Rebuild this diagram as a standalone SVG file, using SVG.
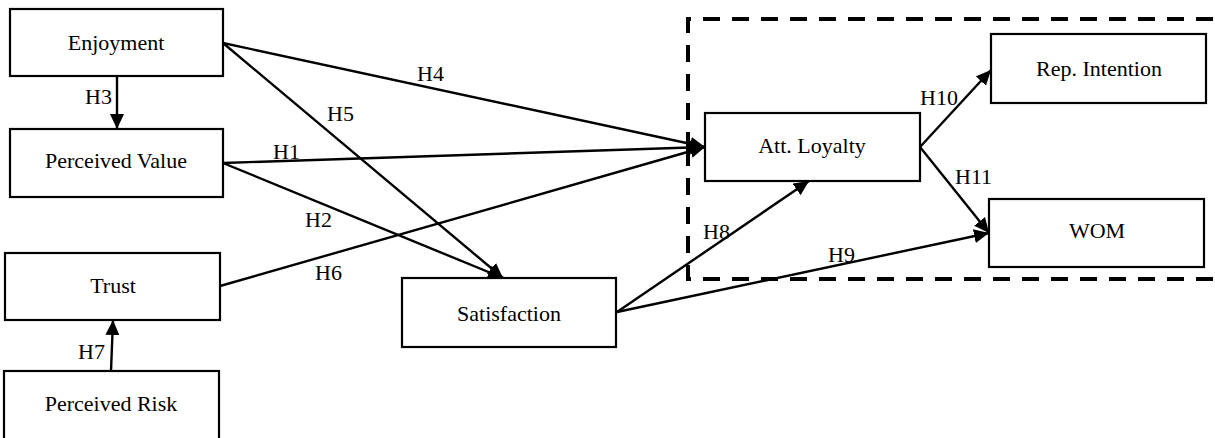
<svg xmlns="http://www.w3.org/2000/svg" width="1215" height="438" viewBox="0 0 1215 438">
<style>
.box{fill:#fff;stroke:#000;stroke-width:2.2}
text{font-family:'Liberation Serif','DejaVu Serif',serif;font-size:22px;fill:#000}
.lbl{text-anchor:middle}
.edge{stroke:#000;stroke-width:2.4;fill:none;marker-end:url(#ah)}
.dash{stroke:#000;stroke-width:4;fill:none;stroke-dasharray:17 12}
</style>
<defs>
<marker id="ah" markerUnits="userSpaceOnUse" markerWidth="16" markerHeight="15" refX="15" refY="7" orient="auto">
<path d="M0,0 L15,7 L0,14 z" fill="#000"/>
</marker>
</defs>
<rect width="1215" height="438" fill="#fff"/>
<g id="group-box">
<path class="dash" d="M688,149 V19 H1225"/>
<path class="dash" d="M688,149 V279 H1225"/>
</g>
<g id="connectors" font-family="Liberation Serif, serif">
<line class="edge" x1="117" y1="76" x2="117" y2="129"/>
<line class="edge" x1="111" y1="371" x2="113" y2="320"/>
<line class="edge" x1="223" y1="43" x2="705" y2="147"/>
<line class="edge" x1="223" y1="43" x2="503" y2="278"/>
<line class="edge" x1="223" y1="163" x2="705" y2="147"/>
<line class="edge" x1="223" y1="163" x2="503" y2="278"/>
<line class="edge" x1="220" y1="286" x2="705" y2="147"/>
<line class="edge" x1="617" y1="312" x2="809" y2="181"/>
<line class="edge" x1="617" y1="312" x2="989" y2="233"/>
<line class="edge" x1="920" y1="147" x2="991" y2="70"/>
<line class="edge" x1="920" y1="147" x2="989" y2="233"/>
<text x="85" y="104">H3</text>
<text x="78" y="359">H7</text>
<text x="417" y="81">H4</text>
<text x="327" y="121">H5</text>
<text x="273" y="159">H1</text>
<text x="305" y="227">H2</text>
<text x="315" y="280">H6</text>
<text x="703" y="239">H8</text>
<text x="828" y="262">H9</text>
<text x="920" y="105">H10</text>
<text x="955" y="184">H11</text>
</g>
<g id="enjoyment"><rect class="box" x="10" y="9" width="213" height="67"/><text class="lbl" x="116" y="50">Enjoyment</text></g>
<g id="perceived-value"><rect class="box" x="10" y="129" width="213" height="68"/><text class="lbl" x="116" y="168">Perceived Value</text></g>
<g id="trust"><rect class="box" x="5" y="253" width="215" height="67"/><text class="lbl" x="113" y="293">Trust</text></g>
<g id="perceived-risk"><rect class="box" x="4" y="371" width="215" height="70"/><text class="lbl" x="111" y="411">Perceived Risk</text></g>
<g id="satisfaction"><rect class="box" x="402" y="278" width="214" height="69"/><text class="lbl" x="509" y="321">Satisfaction</text></g>
<g id="att-loyalty"><rect class="box" x="705" y="113" width="215" height="68"/><text class="lbl" x="812" y="153">Att. Loyalty</text></g>
<g id="rep-intention"><rect class="box" x="991" y="34" width="215" height="69"/><text class="lbl" x="1099" y="76">Rep. Intention</text></g>
<g id="wom"><rect class="box" x="989" y="199" width="215" height="68"/><text class="lbl" x="1097" y="238">WOM</text></g>
</svg>
